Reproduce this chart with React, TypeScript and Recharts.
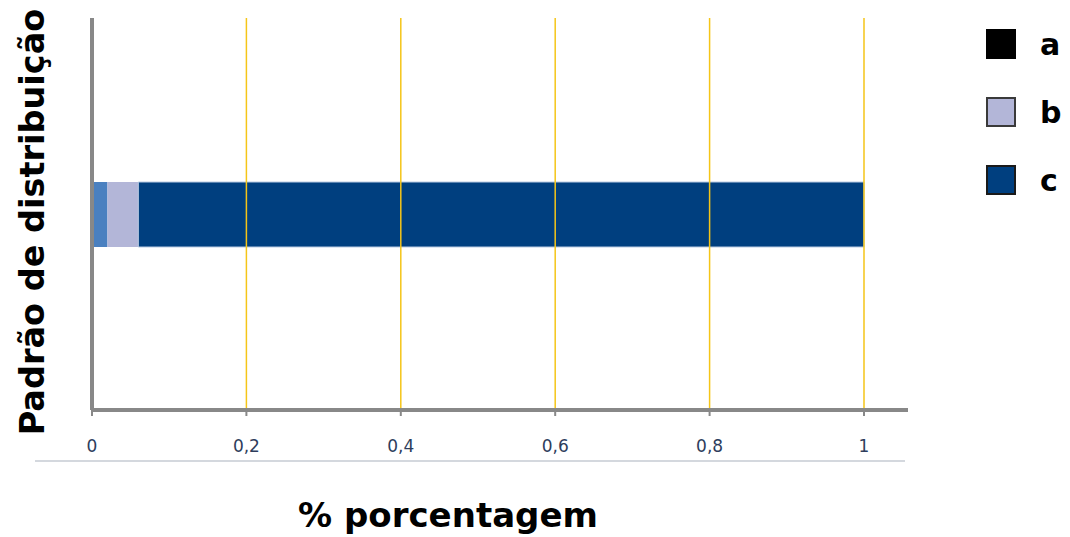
import { BarChart, Bar, XAxis, YAxis, ReferenceLine } from "recharts";

const categories = ["Padrão"];
const seriesA = [0.02];
const seriesB = [0.04];
const seriesC = [0.94];
const xTicks = [0, 0.2, 0.4, 0.6, 0.8, 1];
const seriesNames = ["a", "b", "c"];

const data = categories.map((name, i) => ({
  name,
  a: seriesA[i],
  b: seriesB[i],
  c: seriesC[i],
}));

const FONT = "'DejaVu Sans', Verdana, sans-serif";

// legend swatches: "a" is shown black even though its bar is a mid blue
const legendSwatches: Record<string, { fill: string; border: string }> = {
  a: { fill: "#000000", border: "#000000" },
  b: { fill: "#b3b6d8", border: "#3a3a3a" },
  c: { fill: "#003f7f", border: "#1a1a1a" },
};

function SideLegend() {
  return (
    <div style={{ position: "absolute", left: 986, top: 10, fontFamily: FONT }}>
      {seriesNames.map((n) => (
        <div key={n} style={{ display: "flex", alignItems: "center", height: 68 }}>
          <div
            style={{
              width: 30,
              height: 30,
              background: legendSwatches[n].fill,
              border: `2px solid ${legendSwatches[n].border}`,
              boxSizing: "border-box",
            }}
          />
          <span style={{ marginLeft: 24, fontSize: 30, fontWeight: "bold", color: "#000" }}>
            {n}
          </span>
        </div>
      ))}
    </div>
  );
}

export default function App() {
  return (
    <div style={{ position: "absolute", left: 0, top: 0, width: 1070, height: 537, background: "#fff" }}>
      <BarChart
        width={1070}
        height={537}
        data={data}
        layout="vertical"
        margin={{ top: 18, right: 162, bottom: 10, left: 91 }}
        style={{ fontFamily: FONT }}
      >
        {xTicks
          .filter((t) => t > 0)
          .map((t) => (
            <ReferenceLine key={t} x={t} stroke="#f5c518" strokeWidth={1.5} />
          ))}
        <XAxis
          type="number"
          domain={[0, 1.057]}
          ticks={xTicks}
          allowDataOverflow
          height={117}
          tickFormatter={(v: number) => String(v).replace(".", ",")}
          tick={{ fill: "#2e3d5c", fontSize: 17 }}
          tickLine={{ stroke: "#888888", strokeWidth: 2 }}
          tickSize={6}
          tickMargin={24}
          axisLine={{ stroke: "#888888", strokeWidth: 4 }}
        />
        <YAxis
          type="category"
          dataKey="name"
          width={1}
          tick={false}
          tickLine={false}
          axisLine={{ stroke: "#888888", strokeWidth: 4 }}
        />
        <Bar dataKey="a" stackId="s" barSize={65} fill="#4a80c0" isAnimationActive={false} />
        <Bar dataKey="b" stackId="s" barSize={65} fill="#b3b6d8" isAnimationActive={false} />
        <Bar dataKey="c" stackId="s" barSize={65} fill="#003f7f" stroke="#b9cbe3" strokeWidth={1} isAnimationActive={false} />
      </BarChart>
      {/* rotated category-axis title */}
      <div
        style={{
          position: "absolute",
          left: 32,
          top: 222,
          transform: "translate(-50%, -50%) rotate(-90deg)",
          whiteSpace: "nowrap",
          fontFamily: FONT,
          fontSize: 33.5,
          fontWeight: "bold",
          color: "#000",
        }}
      >
        Padrão de distribuição
      </div>
      {/* value-axis title */}
      <div
        style={{
          position: "absolute",
          left: 448,
          top: 515,
          transform: "translate(-50%, -50%)",
          whiteSpace: "nowrap",
          fontFamily: FONT,
          fontSize: 34,
          fontWeight: "bold",
          color: "#000",
        }}
      >
        % porcentagem
      </div>
      {/* thin rule under the tick labels */}
      <div
        style={{
          position: "absolute",
          left: 35,
          top: 460,
          width: 870,
          height: 2,
          background: "#d4d8de",
        }}
      />
      <SideLegend />
    </div>
  );
}
